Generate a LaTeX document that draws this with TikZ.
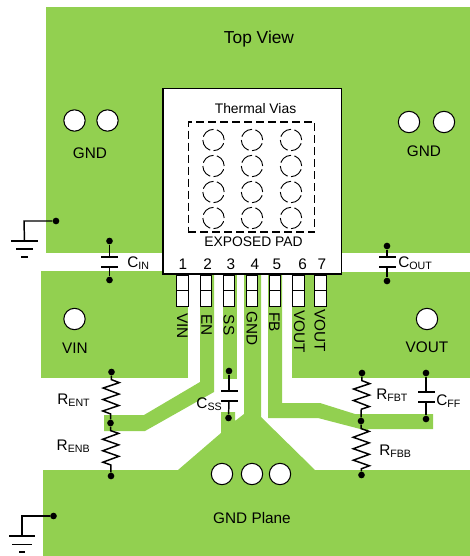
\documentclass[tikz,border=0pt]{standalone}
\usepackage{fontspec}
\setmainfont{Liberation Sans}
\usetikzlibrary{decorations.pathmorphing}
\definecolor{plane}{HTML}{92D050}
\newcommand{\subtxt}[1]{\raisebox{-0.3ex}{\fontsize{8}{9}\selectfont #1}}
\tikzset{
  lbl/.style={inner sep=0pt, font=\fontsize{11.5}{13}\selectfont},
  smalllbl/.style={inner sep=0pt, font=\fontsize{10.4}{12}\selectfont},
  dot/.style={circle, fill=black, inner sep=0pt, minimum size=5pt},
  hole/.style={circle, draw=black, fill=white, line width=0.8pt, inner sep=0pt, minimum size=16pt},
  via/.style={circle, draw=black, line width=0.7pt, dash pattern=on 10pt off 2.5pt, inner sep=0pt, minimum size=16pt},
  plate/.style={rectangle, fill=black, inner sep=0pt, minimum width=12.75pt, minimum height=1.1pt},
  pinbox/.style={rectangle, draw=black, fill=white, line width=0.8pt, inner sep=0pt, minimum width=8.5pt, minimum height=11.5pt},
  wire/.style={line width=1.1pt},
  resistor/.style={wire, decorate, decoration={zigzag, segment length=8.6pt, amplitude=6pt, pre length=3pt, post length=2pt}}
}
\begin{document}
\begin{tikzpicture}[x=0.75pt, y=-0.75pt]
\useasboundingbox (0,0) rectangle (470,556);
\fill[plane] (46,7) rectangle (470,253);
\fill[plane] (41,271) -- (188,271) -- (188,378) -- (41,378) -- cycle;
\fill[plane] (292,272) -- (470,272) -- (470,378) -- (292,378) -- cycle;
\fill[plane] (200,272) -- (214,272) -- (214,392) -- (145,431) -- (104,431) -- (104,415) -- (144,415) -- (200,382) -- cycle;
\fill[plane] (223,272) rectangle (237,379);
\fill[plane] (244,272) -- (261,272) -- (261,417) -- (315,470) -- (470,470) -- (470,556) -- (43,556) -- (43,470) -- (178,470) -- (221,433) -- (221,412) -- (235,412) -- (235,421) -- (244,414) -- cycle;
\fill[plane] (268,272) -- (282,272) -- (282,403) -- (320,403) -- (355,414) -- (433,414) -- (433,429) -- (368,429) -- (368,431) -- (318,418) -- (268,418) -- cycle;
\node[draw=black, fill=white, line width=1.1pt, inner sep=0pt, minimum width=134pt, minimum height=139pt] (chip) at (252.25,181.25) {};
\node[draw=black, line width=0.8pt, dash pattern=on 6pt off 3pt, inner sep=0pt, minimum width=95pt, minimum height=82.5pt] (pad) at (251.5,177) {};
\node[lbl, font=\fontsize{13}{15}\selectfont] (title) at (259,39.5) {Top View};
\node[smalllbl] (vias) at (255.5,109) {Thermal Vias};
\node[smalllbl] (exposed) at (253.5,242) {EXPOSED PAD};
\node[via] (V_0_0) at (213.5,140) {};
\node[via] (V_1_0) at (252,140) {};
\node[via] (V_2_0) at (291,140) {};
\node[via] (V_0_1) at (213.5,166) {};
\node[via] (V_1_1) at (252,166) {};
\node[via] (V_2_1) at (291,166) {};
\node[via] (V_0_2) at (213.5,192) {};
\node[via] (V_1_2) at (252,192) {};
\node[via] (V_2_2) at (291,192) {};
\node[via] (V_0_3) at (213.5,218) {};
\node[via] (V_1_3) at (252,218) {};
\node[via] (V_2_3) at (291,218) {};
\node[lbl] (N_1) at (183,264) {1};
\node[lbl] (N_2) at (207.7,264) {2};
\node[lbl] (N_3) at (231,264) {3};
\node[lbl] (N_4) at (255,264) {4};
\node[lbl] (N_5) at (277,264) {5};
\node[lbl] (N_6) at (302.7,264) {6};
\node[lbl] (N_7) at (322,264) {7};
\node[pinbox] (P_1_a) at (182.5,283) {};
\node[pinbox] (P_1_b) at (182.5,298.5) {};
\node[pinbox] (P_2_a) at (206,283) {};
\node[pinbox] (P_2_b) at (206,298.5) {};
\node[pinbox] (P_3_a) at (229,283) {};
\node[pinbox] (P_3_b) at (229,298.5) {};
\node[pinbox] (P_4_a) at (252,283) {};
\node[pinbox] (P_4_b) at (252,298.5) {};
\node[pinbox] (P_5_a) at (275,283) {};
\node[pinbox] (P_5_b) at (275,298.5) {};
\node[pinbox] (P_6_a) at (298.5,283) {};
\node[pinbox] (P_6_b) at (298.5,298.5) {};
\node[pinbox] (P_7_a) at (320.5,283) {};
\node[pinbox] (P_7_b) at (320.5,298.5) {};
\node[lbl, rotate=-90] (L_1) at (182.5,326) {VIN};
\node[lbl, rotate=-90] (L_2) at (206.7,325) {EN};
\node[lbl, rotate=-90] (L_3) at (229,325) {SS};
\node[lbl, rotate=-90] (L_4) at (252,329) {GND};
\node[lbl, rotate=-90] (L_5) at (274.5,322) {FB};
\node[lbl, rotate=-90] (L_6) at (299.5,331.5) {VOUT};
\node[lbl, rotate=-90] (L_7) at (320,331) {VOUT};
\node[hole] (H_gnd_a) at (74.5,120.5) {};
\node[hole] (H_gnd_b) at (107.5,120.5) {};
\node[hole] (H_gnd_c) at (409,122) {};
\node[hole] (H_gnd_d) at (444,122) {};
\node[hole] (H_vin) at (74.5,319) {};
\node[hole] (H_vout) at (427,319) {};
\node[hole] (H_plane_a) at (222,474) {};
\node[hole] (H_plane_b) at (252,474) {};
\node[hole] (H_plane_c) at (280,474) {};
\node[lbl] (T_gnd_a) at (90,153) {GND};
\node[lbl] (T_gnd_b) at (424,151) {GND};
\node[lbl] (T_vin) at (75,348) {VIN};
\node[lbl] (T_vout) at (427,347) {VOUT};
\node[lbl] (T_plane) at (252,518) {GND Plane};
\node[dot] (G_t_d) at (56,221) {};
\coordinate (G_t_c) at (24,221);
\node[plate, minimum width=20pt] (G_t_a) at (24.5,241) {};
\node[plate, minimum width=13pt] (G_t_b) at (24.5,249) {};
\node[plate, minimum width=5pt] (G_t_e) at (24.5,257) {};
\draw[wire] (G_t_d) -- (G_t_c) -- (G_t_a);
\node[dot] (G_b_d) at (53.5,516) {};
\coordinate (G_b_c) at (22,516);
\node[plate, minimum width=20pt] (G_b_a) at (22,536) {};
\node[plate, minimum width=15pt] (G_b_b) at (22,544.5) {};
\node[plate, minimum width=5pt] (G_b_e) at (22,552) {};
\draw[wire] (G_b_d) -- (G_b_c) -- (G_b_a);
\node[dot] (C_IN_a) at (109.5,241) {};
\node[plate] (C_IN_p) at (109.5,257) {};
\node[plate] (C_IN_q) at (109.5,267) {};
\node[dot] (C_IN_b) at (109.5,280) {};
\draw[wire] (C_IN_a) -- (C_IN_p);
\draw[wire] (C_IN_q) -- (C_IN_b);
\node[lbl, anchor=west] (T_cin) at (127,263) {C\subtxt{IN}};
\node[dot] (C_OUT_a) at (387,246) {};
\node[plate] (C_OUT_p) at (387,257) {};
\node[plate] (C_OUT_q) at (387,267) {};
\node[dot] (C_OUT_b) at (387,281) {};
\draw[wire] (C_OUT_a) -- (C_OUT_p);
\draw[wire] (C_OUT_q) -- (C_OUT_b);
\node[lbl, anchor=west] (T_cout) at (398,263) {C\subtxt{OUT}};
\node[dot] (C_SS_a) at (229,371) {};
\node[plate] (C_SS_p) at (229,391) {};
\node[plate] (C_SS_q) at (229,401) {};
\node[dot] (C_SS_b) at (228.5,418) {};
\draw[wire] (C_SS_a) -- (C_SS_p);
\draw[wire] (C_SS_q) -- (C_SS_b);
\node[lbl, anchor=east] (T_css) at (222,404) {C\subtxt{SS}};
\node[dot] (C_FF_a) at (426,373) {};
\node[plate] (C_FF_p) at (426,392) {};
\node[plate] (C_FF_q) at (426,402) {};
\node[dot] (C_FF_b) at (426,419) {};
\draw[wire] (C_FF_a) -- (C_FF_p);
\draw[wire] (C_FF_q) -- (C_FF_b);
\node[lbl, anchor=west] (T_cff) at (436,401) {C\subtxt{FF}};
\node[dot] (R_EN_a) at (111.5,372) {};
\node[dot] (R_EN_b) at (110.5,423) {};
\node[dot] (R_EN_c) at (111,476) {};
\draw[resistor] (R_EN_a) -- (R_EN_b);
\draw[resistor] (R_EN_b) -- (R_EN_c);
\node[lbl, anchor=east] (T_rent) at (90,400) {R\subtxt{ENT}};
\node[lbl, anchor=east] (T_renb) at (90,446) {R\subtxt{ENB}};
\node[dot] (R_FB_a) at (362,373) {};
\node[dot] (R_FB_b) at (361,421) {};
\node[dot] (R_FB_c) at (361.5,475) {};
\draw[resistor] (R_FB_a) -- (R_FB_b);
\draw[resistor] (R_FB_b) -- (R_FB_c);
\node[lbl, anchor=west] (T_rfbt) at (376,395) {R\subtxt{FBT}};
\node[lbl, anchor=west] (T_rfbb) at (379,451) {R\subtxt{FBB}};
\end{tikzpicture}
\end{document}
